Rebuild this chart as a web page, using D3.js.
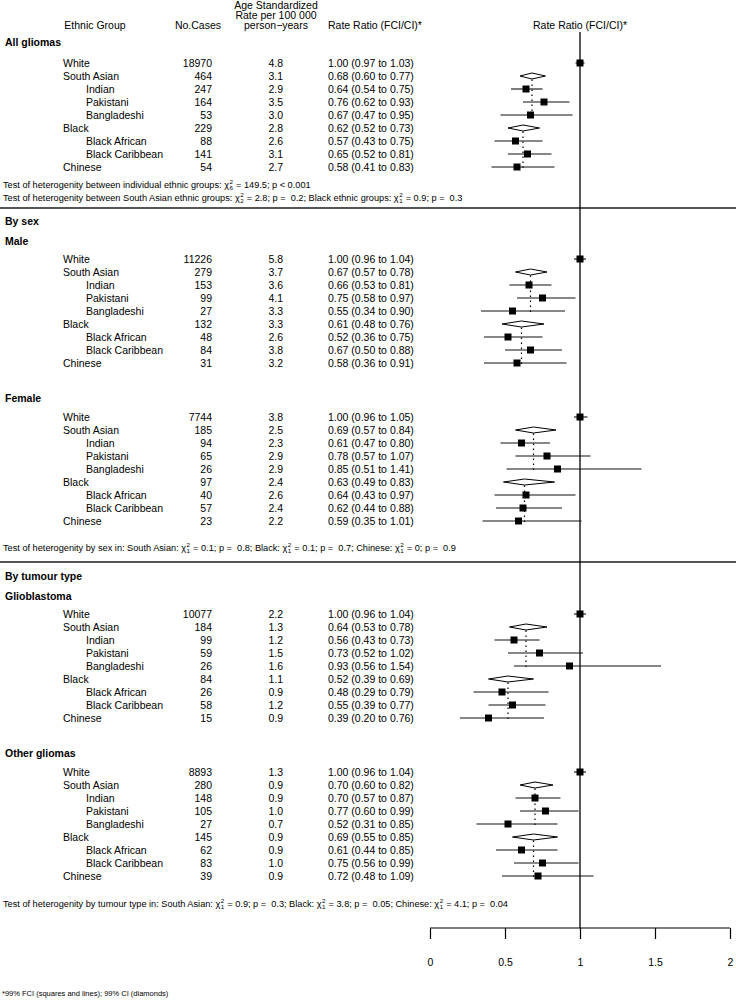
<!DOCTYPE html>
<html><head><meta charset="utf-8">
<script src="https://cdn.jsdelivr.net/npm/d3@7"></script>
<style>
body{margin:0;background:#fff;}
svg text{font-family:"Liberation Sans",Arial,Helvetica,sans-serif;fill:#000;white-space:pre;}
</style></head><body>
<svg id="chart" width="736" height="1000"></svg>
<script>
// ---------- data ----------
const ethnicGroups = ["White","South Asian","Indian","Pakistani","Bangladeshi","Black","Black African","Black Caribbean","Chinese"];
const rowKind = ["ref","group","sub","sub","sub","group","sub","sub","single"];

const allCases = [18970,464,247,164,53,229,88,141,54];
const allRate  = [4.8,3.1,2.9,3.5,3.0,2.8,2.6,3.1,2.7];
const allRR    = [1.00,0.68,0.64,0.76,0.67,0.62,0.57,0.65,0.58];
const allLo    = [0.97,0.60,0.54,0.62,0.47,0.52,0.43,0.52,0.41];
const allHi    = [1.03,0.77,0.75,0.93,0.95,0.73,0.75,0.81,0.83];

const maleCases = [11226,279,153,99,27,132,48,84,31];
const maleRate  = [5.8,3.7,3.6,4.1,3.3,3.3,2.6,3.8,3.2];
const maleRR    = [1.00,0.67,0.66,0.75,0.55,0.61,0.52,0.67,0.58];
const maleLo    = [0.96,0.57,0.53,0.58,0.34,0.48,0.36,0.50,0.36];
const maleHi    = [1.04,0.78,0.81,0.97,0.90,0.76,0.75,0.88,0.91];

const femaleCases = [7744,185,94,65,26,97,40,57,23];
const femaleRate  = [3.8,2.5,2.3,2.9,2.9,2.4,2.6,2.4,2.2];
const femaleRR    = [1.00,0.69,0.61,0.78,0.85,0.63,0.64,0.62,0.59];
const femaleLo    = [0.96,0.57,0.47,0.57,0.51,0.49,0.43,0.44,0.35];
const femaleHi    = [1.05,0.84,0.80,1.07,1.41,0.83,0.97,0.88,1.01];

const gbmCases = [10077,184,99,59,26,84,26,58,15];
const gbmRate  = [2.2,1.3,1.2,1.5,1.6,1.1,0.9,1.2,0.9];
const gbmRR    = [1.00,0.64,0.56,0.73,0.93,0.52,0.48,0.55,0.39];
const gbmLo    = [0.96,0.53,0.43,0.52,0.56,0.39,0.29,0.39,0.20];
const gbmHi    = [1.04,0.78,0.73,1.02,1.54,0.69,0.79,0.77,0.76];

const otherCases = [8893,280,148,105,27,145,62,83,39];
const otherRate  = [1.3,0.9,0.9,1.0,0.7,0.9,0.9,1.0,0.9];
const otherRR    = [1.00,0.70,0.70,0.77,0.52,0.69,0.61,0.75,0.72];
const otherLo    = [0.96,0.60,0.57,0.60,0.31,0.55,0.44,0.56,0.48];
const otherHi    = [1.04,0.82,0.87,0.99,0.85,0.85,0.85,0.99,1.09];

const axisTicks = [0,0.5,1,1.5,2];
const axisTickLabels = ["0","0.5","1","1.5","2"];

const headerLabels = ["Ethnic Group","No.Cases","Rate Ratio (FCI/CI)*"];
const rateHeaderLines = ["Age Standardized","Rate per 100 000","person\u2212years"];
const plotHeader = "Rate Ratio (FCI/CI)*";
const footnote = "*99% FCI (squares and lines); 99% CI (diamonds)";

const testAll1 = ["Test of heterogenity between individual ethnic groups: \u03c7",{sup:"2",sub:"6"}," = 149.5; p < 0.001"];
const testAll2 = ["Test of heterogenity between South Asian ethnic groups: \u03c7",{sup:"2",sub:"2"}," = 2.8; p =  0.2; Black ethnic groups: \u03c7",{sup:"2",sub:"1"}," = 0.9; p =  0.3"];
const testSex  = ["Test of heterogenity by sex in: South Asian: \u03c7",{sup:"2",sub:"1"}," = 0.1; p =  0.8; Black: \u03c7",{sup:"2",sub:"1"}," = 0.1; p =  0.7; Chinese: \u03c7",{sup:"2",sub:"1"}," = 0; p =  0.9"];
const testType = ["Test of heterogenity by tumour type in: South Asian: \u03c7",{sup:"2",sub:"1"}," = 0.9; p =  0.3; Black: \u03c7",{sup:"2",sub:"1"}," = 3.8; p =  0.05; Chinese: \u03c7",{sup:"2",sub:"1"}," = 4.1; p =  0.04"];

// ---------- layout ----------
const FS = 10.5;
const rowStep = 13;
const panels = [
  {cases:allCases, rate:allRate, rr:allRR, lo:allLo, hi:allHi, top:63},
  {cases:maleCases, rate:maleRate, rr:maleRR, lo:maleLo, hi:maleHi, top:259},
  {cases:femaleCases, rate:femaleRate, rr:femaleRR, lo:femaleLo, hi:femaleHi, top:417},
  {cases:gbmCases, rate:gbmRate, rr:gbmRR, lo:gbmLo, hi:gbmHi, top:614},
  {cases:otherCases, rate:otherRate, rr:otherRR, lo:otherLo, hi:otherHi, top:772}
];
const titles = [
  {t:"All gliomas", y:42}, {t:"By sex", y:221}, {t:"Male", y:241}, {t:"Female", y:398},
  {t:"By tumour type", y:576}, {t:"Glioblastoma", y:596}, {t:"Other gliomas", y:753}
];
const tests = [{p:testAll1,y:184},{p:testAll2,y:197},{p:testSex,y:547},{p:testType,y:903}];
const separators = [208, 562];

const svg = d3.select("#chart");
const x = d3.scaleLinear().domain([0,2]).range([430,730]);
const axisY = 928;

const base = c => c + FS*0.36; // center -> baseline

function rich(g, x0, yc, parts, size){
  let cx = x0;
  parts.forEach(p=>{
    if(typeof p === "string"){
      const t = g.append("text").attr("x",cx).attr("y",base(yc)).attr("font-size",size).text(p);
      cx += t.node().getComputedTextLength();
    } else {
      const s = size*0.68;
      const a = g.append("text").attr("x",cx+0.5).attr("y",base(yc)-size*0.42).attr("font-size",s).text(p.sup);
      const b = g.append("text").attr("x",cx+0.5).attr("y",base(yc)+size*0.28).attr("font-size",s).text(p.sub);
      cx += Math.max(a.node().getComputedTextLength(), b.node().getComputedTextLength())+1;
    }
  });
}

// header
const hdr = svg.append("g");
hdr.append("text").attr("x",95).attr("y",base(25)).attr("text-anchor","middle").attr("font-size",FS).text(headerLabels[0]);
hdr.append("text").attr("x",198).attr("y",base(25)).attr("text-anchor","middle").attr("font-size",FS).text(headerLabels[1]);
rateHeaderLines.forEach((s,i)=>{
  hdr.append("text").attr("x",276).attr("y",base(5+i*10)).attr("text-anchor","middle").attr("font-size",FS).text(s);
});
hdr.append("text").attr("x",328).attr("y",base(25)).attr("font-size",FS).text(headerLabels[2]);
hdr.append("text").attr("x",x(1)).attr("y",base(25)).attr("text-anchor","middle").attr("font-size",FS).text(plotHeader);

// section titles
titles.forEach(d=>{
  svg.append("text").attr("x",5).attr("y",base(d.y)).attr("font-size",FS).attr("font-weight","bold").text(d.t);
});

// separators
separators.forEach(y=>{
  svg.append("line").attr("x1",0).attr("x2",736).attr("y1",y).attr("y2",y).attr("stroke","#555").attr("stroke-width",2);
});

// reference line at 1
svg.append("line").attr("x1",x(1)).attr("x2",x(1)).attr("y1",32).attr("y2",axisY).attr("stroke","#000").attr("stroke-width",1.3);

// panels
panels.forEach(p=>{
  const y = d3.scaleLinear().domain([0,1]).range([p.top,p.top+rowStep]);
  const g = svg.append("g");
  const rows = ethnicGroups.map((name,i)=>({name,i,kind:rowKind[i],cases:p.cases[i],rate:p.rate[i],rr:p.rr[i],lo:p.lo[i],hi:p.hi[i]}));
  g.selectAll("text.name").data(rows).join("text").attr("class","name")
    .attr("x",d=>d.kind==="sub"?86:63).attr("y",d=>base(y(d.i))).attr("font-size",FS).text(d=>d.name);
  g.selectAll("text.cases").data(rows).join("text").attr("class","cases")
    .attr("x",212).attr("y",d=>base(y(d.i))).attr("text-anchor","end").attr("font-size",FS).text(d=>d.cases);
  g.selectAll("text.rate").data(rows).join("text").attr("class","rate")
    .attr("x",283).attr("y",d=>base(y(d.i))).attr("text-anchor","end").attr("font-size",FS).text(d=>d.rate.toFixed(1));
  g.selectAll("text.rr").data(rows).join("text").attr("class","rr")
    .attr("x",328).attr("y",d=>base(y(d.i))).attr("font-size",FS)
    .text(d=>`${d.rr.toFixed(2)} (${d.lo.toFixed(2)} to ${d.hi.toFixed(2)})`);

  // dotted lines from group diamonds through subgroups
  rows.filter(d=>d.kind==="group").forEach(d=>{
    g.append("line").attr("x1",x(d.rr)).attr("x2",x(d.rr)).attr("y1",y(d.i)+3.5).attr("y2",y(d.i+3)+1)
      .attr("stroke","#000").attr("stroke-width",1.2).attr("stroke-dasharray","1.5,3.5");
  });
  const pts = rows.filter(d=>d.kind!=="group");
  g.selectAll("line.ci").data(pts).join("line").attr("class","ci")
    .attr("x1",d=>x(d.lo)).attr("x2",d=>x(d.hi)).attr("y1",d=>y(d.i)).attr("y2",d=>y(d.i))
    .attr("stroke","#111").attr("stroke-width",1.1);
  g.selectAll("rect.pt").data(pts).join("rect").attr("class","pt")
    .attr("x",d=>x(d.rr)-3.5).attr("y",d=>y(d.i)-3.5).attr("width",7).attr("height",7).attr("fill","#000");
  g.selectAll("path.dia").data(rows.filter(d=>d.kind==="group")).join("path").attr("class","dia")
    .attr("d",d=>{const c=y(d.i);return `M${x(d.lo)},${c}L${x(d.rr)},${c-3}L${x(d.hi)},${c}L${x(d.rr)},${c+3}Z`;})
    .attr("fill","#fff").attr("stroke","#000").attr("stroke-width",1);
});

// tests
tests.forEach(t=>rich(svg.append("g"),3,t.y,t.p,9.2));

// axis
const ax = svg.append("g").attr("transform",`translate(0,${axisY})`)
  .call(d3.axisBottom(x).tickValues(axisTicks).tickSize(11).tickPadding(20).tickFormat((d,i)=>axisTickLabels[i]));
ax.select(".domain").attr("d",`M${x(0)},0H${x(2)}`).attr("stroke","#000").attr("stroke-width",1.2);
ax.selectAll(".tick line").attr("stroke","#000").attr("stroke-width",1.2);
ax.selectAll(".tick text").attr("font-size",FS).attr("font-family","Liberation Sans, Arial, sans-serif");

svg.append("text").attr("x",2).attr("y",996).attr("font-size",7.5).text(footnote);
</script>
</body></html>
